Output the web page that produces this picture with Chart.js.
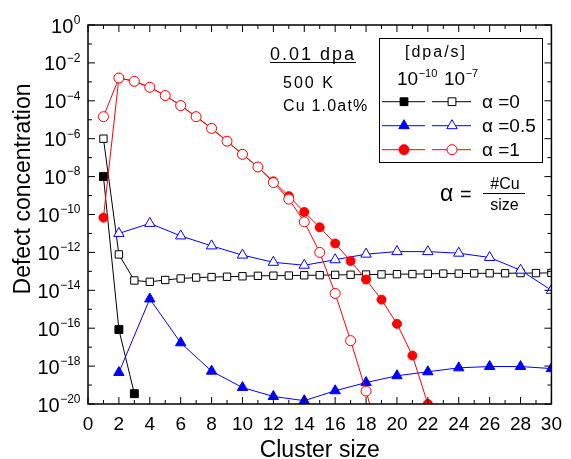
<!DOCTYPE html>
<html>
<head>
<meta charset="utf-8">
<script src="https://cdn.jsdelivr.net/npm/chart.js@4.4.0/dist/chart.umd.min.js"></script>
<style>
    body { margin: 0; background: #fff; }
</style>
</head>
<body>
<canvas id="defects" width="571" height="459"></canvas>
<script>
    // cluster sizes
    var sizesAll = [1, 2, 3, 4, 5, 6, 7, 8, 9, 10, 11, 12, 13, 14, 15, 16, 17, 18, 19, 20, 21, 22, 23, 24, 25, 26, 27, 28, 29, 30];
    var sizesEven = [2, 4, 6, 8, 10, 12, 14, 16, 18, 20, 22, 24, 26, 28, 30];

    // alpha = 0  (black squares)
    var a0Slow = [1e-8, 8.5e-17, 3.5e-20]; // 1e-10 dpa/s, sizes 1..3
    var a0Fast = [1e-6, 7.8e-13, 3.3e-14, 2.8e-14, 3.5e-14, 4.2e-14, 4.7e-14, 5.0e-14, 5.2e-14, 5.5e-14,
                  5.8e-14, 5.9e-14, 6.0e-14, 6.2e-14, 6.3e-14, 6.5e-14, 6.6e-14, 6.8e-14, 6.9e-14, 7.1e-14,
                  7.2e-14, 7.4e-14, 7.6e-14, 7.6e-14, 7.8e-14, 7.9e-14, 7.9e-14, 8.1e-14, 8.1e-14, 8.3e-14]; // 1e-7 dpa/s

    // alpha = 0.5  (blue triangles, even sizes)
    var a05Slow = [4.6e-19, 3.5e-15, 1.7e-17, 5.4e-19, 7.4e-20, 2.5e-20, 1.5e-20, 5e-20, 1.35e-19, 3.1e-19,
                   5e-19, 8.1e-19, 9.5e-19, 9.5e-19, 7.4e-19];
    var a05Fast = [1e-11, 3.4e-11, 7.4e-12, 2.2e-12, 7.2e-13, 3e-13, 2.1e-13, 4.1e-13, 8.1e-13, 1.1e-12,
                   1.1e-12, 9.1e-13, 5.4e-13, 1.15e-13, 1e-14];

    // alpha = 1  (red circles)
    var a1Slow = [6.8e-11, 1.6e-3, 1.07e-3, 5.2e-4, 1.9e-4, 5.6e-5, 1.45e-5, 3.5e-6, 7.4e-7, 1.5e-7,
                  3.2e-8, 5.6e-9, 9.3e-10, 1.35e-10, 2.1e-11, 2.95e-12, 3.5e-13, 3.7e-14, 3.2e-15, 1.7e-16,
                  3.6e-18, 1.0e-20];
    var a1Fast = [1.45e-5, 1.6e-3, 1.07e-3, 5.2e-4, 1.9e-4, 5.6e-5, 1.45e-5, 3.5e-6, 7.4e-7, 1.5e-7,
                  3.2e-8, 4.8e-9, 6.5e-10, 4.1e-11, 1.0e-12, 6.8e-15, 2.2e-17, 4.8e-20, 6e-23];

    // y tick labels: 10^e
    var yExponents = [0, -2, -4, -6, -8, -10, -12, -14, -16, -18, -20];

    var FONT = '"Liberation Sans", Arial, sans-serif';

    function pts(xs, ys) {
        return ys.map(function (v, i) { return { x: xs[i], y: v }; });
    }

    function series(xs, ys, color, style, filled, radius) {
        return {
            data: pts(xs, ys),
            borderColor: color,
            backgroundColor: color,
            borderWidth: 1,
            pointStyle: style,
            pointRadius: radius,
            pointHoverRadius: radius,
            pointBackgroundColor: filled ? color : '#fff',
            pointBorderColor: color,
            pointBorderWidth: 1,
            fill: false,
            tension: 0,
            clip: 0
        };
    }

    function marker(ctx, style, x, y, r, color, filled) {
        ctx.beginPath();
        if (style === 'circle') {
            ctx.arc(x, y, r, 0, Math.PI * 2);
        } else if (style === 'rect') {
            var h = r * Math.SQRT1_2;
            ctx.rect(x - h, y - h, 2 * h, 2 * h);
        } else {
            ctx.moveTo(x, y - r);
            ctx.lineTo(x + r * 0.866, y + r / 2);
            ctx.lineTo(x - r * 0.866, y + r / 2);
            ctx.closePath();
        }
        ctx.fillStyle = filled ? color : '#fff';
        ctx.fill();
        ctx.strokeStyle = color;
        ctx.lineWidth = 1;
        ctx.stroke();
    }

    function seg(ctx, x1, y1, x2, y2) {
        ctx.beginPath();
        ctx.moveTo(x1, y1);
        ctx.lineTo(x2, y2);
        ctx.stroke();
    }

    function power(ctx, x, y, sup, baseSize, supSize, align) {
        // "10" with a superscript; align 'right' means x is the right edge
        ctx.font = supSize + 'px ' + FONT;
        var ws = ctx.measureText(sup).width;
        ctx.font = baseSize + 'px ' + FONT;
        var wb = ctx.measureText('10').width;
        var left = align === 'right' ? x - ws - wb : x;
        ctx.textAlign = 'left';
        ctx.textBaseline = 'middle';
        ctx.fillText('10', left, y + 2);
        ctx.font = supSize + 'px ' + FONT;
        ctx.fillText(sup, left + wb + 0.5, y - 4.5);
    }

    var decorations = {
        id: 'decorations',
        afterDraw: function (chart) {
            var ctx = chart.ctx, ca = chart.chartArea;
            var xs = chart.scales.x, ys = chart.scales.y;
            ctx.save();
            ctx.fillStyle = '#000';
            ctx.strokeStyle = '#000';

            // frame
            ctx.lineWidth = 1.5;
            ctx.strokeRect(ca.left, ca.top, ca.right - ca.left, ca.bottom - ca.top);

            // inward ticks
            ctx.lineWidth = 1;
            for (var i = 0; i <= 30; i++) {
                var px = xs.getPixelForValue(i), len = i % 2 ? 4 : 7;
                seg(ctx, px, ca.bottom, px, ca.bottom - len);
                seg(ctx, px, ca.top, px, ca.top + len);
            }
            for (var e = 0; e >= -20; e--) {
                var py = ys.getPixelForValue(Math.pow(10, e)), l2 = e % 2 ? 4 : 7;
                seg(ctx, ca.left, py, ca.left + l2, py);
                seg(ctx, ca.right, py, ca.right - l2, py);
            }

            // y tick labels with superscripts
            ctx.fillStyle = '#000';
            yExponents.forEach(function (ex) {
                var y = ys.getPixelForValue(Math.pow(10, ex));
                var sup = ex === 0 ? '0' : '\u2212' + (-ex);
                power(ctx, ca.left - 8, y, sup, 20, 12, 'right');
            });

            // axis titles
            ctx.font = '23px ' + FONT;
            ctx.textAlign = 'center';
            ctx.textBaseline = 'alphabetic';
            ctx.fillText('Cluster size', (ca.left + ca.right) / 2, 457);
            ctx.save();
            ctx.translate(30, 189);
            ctx.rotate(-Math.PI / 2);
            ctx.fillText('Defect concentration', 0, 0);
            ctx.restore();

            // annotations
            ctx.textAlign = 'left';
            ctx.textBaseline = 'middle';
            ctx.font = '18px ' + FONT;
            ctx.letterSpacing = '2px';
            ctx.fillText('0.01 dpa', 270, 55);
            ctx.lineWidth = 1;
            seg(ctx, 270, 62.5, 356, 62.5);
            ctx.font = '16px ' + FONT;
            ctx.fillText('500 K', 283, 83.5);
            ctx.letterSpacing = '1.2px';
            ctx.fillText('Cu 1.0at%', 283, 107);
            ctx.letterSpacing = '0px';

            // alpha = #Cu / size
            ctx.textBaseline = 'alphabetic';
            ctx.font = '23px ' + FONT;
            ctx.fillText('\u03b1', 440, 201);
            ctx.font = '20px ' + FONT;
            ctx.fillText('=', 460, 201);
            ctx.font = '16px ' + FONT;
            ctx.textAlign = 'center';
            ctx.fillText('#Cu', 505, 188.5);
            ctx.fillText('size', 504.5, 210);
            seg(ctx, 483, 193.5, 525, 193.5);

            // legend box
            ctx.textBaseline = 'middle';
            ctx.strokeRect(379.5, 38.5, 163, 124);
            ctx.font = '16px ' + FONT;
            ctx.letterSpacing = '2px';
            ctx.fillText('[dpa/s]', 436, 53);
            ctx.letterSpacing = '0px';
            power(ctx, 397, 78, '\u221210', 19, 11, 'left');
            power(ctx, 444, 78, '\u22127', 19, 11, 'left');

            var rows = [
                { y: 101.7, color: '#000', style: 'rect', r: 5.5, label: '\u03b1 =0' },
                { y: 125.7, color: '#00f', style: 'triangle', r: 6, label: '\u03b1 =0.5' },
                { y: 149.7, color: '#f00', style: 'circle', r: 5, label: '\u03b1 =1' }
            ];
            rows.forEach(function (row) {
                ctx.strokeStyle = row.color;
                ctx.lineWidth = 1;
                seg(ctx, 382, row.y, 425, row.y);
                seg(ctx, 432, row.y, 471, row.y);
                marker(ctx, row.style, 404, row.y, row.r, row.color, true);
                marker(ctx, row.style, 452, row.y, row.r, row.color, false);
                ctx.fillStyle = '#000';
                ctx.font = '19px ' + FONT;
                ctx.textAlign = 'left';
                ctx.textBaseline = 'middle';
                ctx.fillText(row.label, 482, row.y + 1);
            });
            ctx.restore();
        }
    };

    var chart = new Chart(document.getElementById('defects'), {
        type: 'line',
        data: {
            datasets: [
                series(sizesAll, a1Fast, '#f00', 'circle', false, 5),
                series(sizesAll, a1Slow, '#f00', 'circle', true, 4.5),
                series(sizesEven, a05Fast, '#00f', 'triangle', false, 6),
                series(sizesEven, a05Slow, '#00f', 'triangle', true, 6),
                series(sizesAll, a0Fast, '#000', 'rect', false, 5.2),
                series(sizesAll, a0Slow, '#000', 'rect', true, 5.6)
            ]
        },
        options: {
            responsive: false,
            animation: false,
            events: [],
            layout: { padding: { top: 25, right: 13, left: 0, bottom: 0 } },
            plugins: { legend: { display: false }, tooltip: { enabled: false } },
            scales: {
                x: {
                    type: 'linear', min: 0, max: 30,
                    grid: { display: false, drawTicks: false },
                    border: { display: false },
                    ticks: { stepSize: 2, color: '#000', font: { family: FONT, size: 19 }, padding: 9, maxRotation: 0, autoSkip: false },
                    title: { display: false },
                    afterFit: function (s) { s.height = 55; }
                },
                y: {
                    type: 'logarithmic', min: 1e-20, max: 1,
                    grid: { display: false, drawTicks: false },
                    border: { display: false },
                    ticks: { display: false },
                    title: { display: false },
                    afterFit: function (s) { s.width = 88; }
                }
            }
        },
        plugins: [decorations]
    });
</script>
</body>
</html>
